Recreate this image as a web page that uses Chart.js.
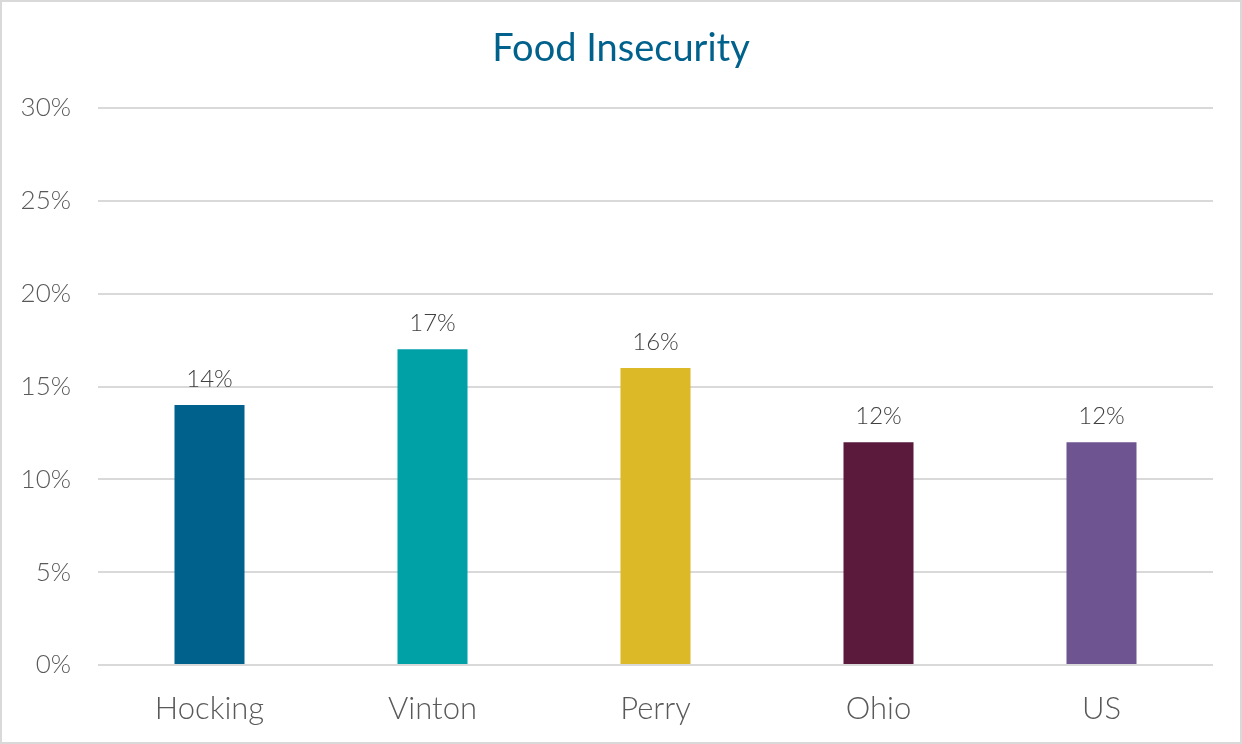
<!doctype html>
<html lang="en">
<head>
    <meta charset="utf-8" />
    <title>Food Insecurity</title>
    <script src="https://cdn.jsdelivr.net/npm/chart.js@4.4.1/dist/chart.umd.min.js"></script>
    <style>
        body { margin: 0; background: #fff; }
        #foodChart { display: block; }
    </style>
</head>
<body>
    <canvas id="foodChart" width="1242" height="744"></canvas>
    <script>
        const regions = ['Hocking', 'Vinton', 'Perry', 'Ohio', 'US'];
        const insecurityPct = [14, 17, 16, 12, 12];
        const barColors = ['#00628C', '#00A0A7', '#DBB927', '#5B1A3C', '#6E5592'];
        const yTicks = [0, 5, 10, 15, 20, 25, 30];

        const fontFamily = 'Lato, "Open Sans", sans-serif';

        // title, value labels and the outer frame
        const decorations = {
            id: 'decorations',
            afterDatasetsDraw(chart) {
                const ctx = chart.ctx;
                const meta = chart.getDatasetMeta(0);
                ctx.save();
                ctx.fillStyle = '#404040';
                ctx.font = '300 24px ' + fontFamily;
                ctx.textAlign = 'center';
                ctx.textBaseline = 'bottom';
                meta.data.forEach((bar, i) => {
                    ctx.fillText(insecurityPct[i] + '%', bar.x, bar.y - 14);
                });
                ctx.restore();
            },
            afterDraw(chart) {
                const ctx = chart.ctx;
                ctx.save();
                ctx.fillStyle = '#00628C';
                ctx.font = '400 38px ' + fontFamily;
                ctx.textAlign = 'center';
                ctx.textBaseline = 'middle';
                ctx.fillText('Food Insecurity', 621, 49);
                ctx.strokeStyle = '#d9d9d9';
                ctx.lineWidth = 2;
                ctx.strokeRect(1, 1, chart.width - 2, chart.height - 2);
                ctx.restore();
            }
        };

        new Chart(document.getElementById('foodChart'), {
            type: 'bar',
            data: {
                labels: regions,
                datasets: [{
                    data: insecurityPct,
                    backgroundColor: barColors,
                    barPercentage: 0.314,
                    categoryPercentage: 1
                }]
            },
            options: {
                responsive: false,
                animation: false,
                layout: { padding: { top: 108, right: 29, left: 0, bottom: 0 } },
                plugins: {
                    legend: { display: false },
                    tooltip: { enabled: false },
                    title: { display: false }
                },
                scales: {
                    x: {
                        grid: { display: false, drawTicks: false },
                        border: { display: false },
                        ticks: {
                            color: '#595959',
                            font: { family: fontFamily, size: 31, weight: '300' },
                            padding: 25
                        },
                        afterFit(scale) { scale.height = 79; }
                    },
                    y: {
                        min: 0,
                        max: 30,
                        afterBuildTicks(scale) {
                            scale.ticks = yTicks.map(v => ({ value: v }));
                        },
                        grid: { color: '#d9d9d9', lineWidth: 2, drawTicks: false },
                        border: { display: false },
                        ticks: {
                            color: '#595959',
                            font: { family: fontFamily, size: 26, weight: '300' },
                            padding: 27,
                            callback: v => v + '%'
                        },
                        afterFit(scale) { scale.width = 98; }
                    }
                }
            },
            plugins: [decorations]
        });
    </script>
</body>
</html>
